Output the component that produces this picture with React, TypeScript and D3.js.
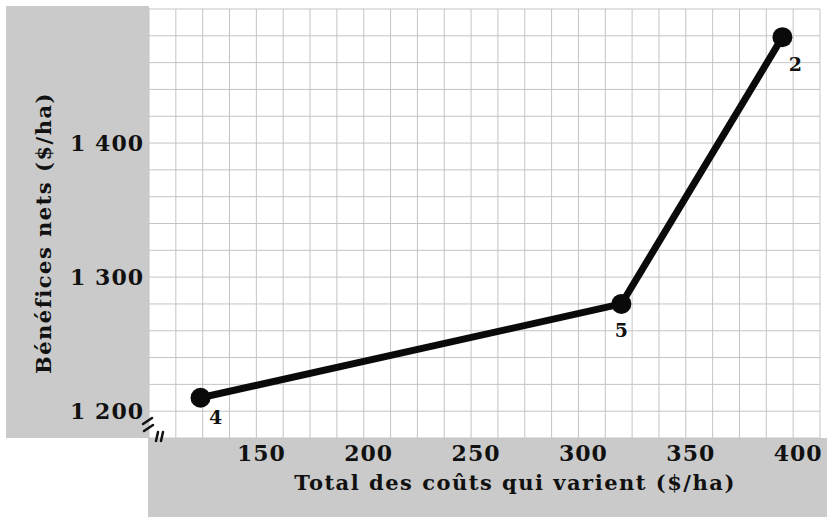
import React from "react";
import * as d3 from "d3";

// treatments on the net benefit curve
const treatments = ["4", "5", "2"];
const costs = [124, 320, 395];
const benefits = [1210, 1280, 1479];

const xTicks = [150, 200, 250, 300, 350, 400];
const yTicks = [1200, 1300, 1400];

const xTitle = "Total des coûts qui varient ($/ha)";
const yTitle = "Bénéfices nets ($/ha)";

const W = 827;
const H = 520;
const plot = { left: 149, right: 820, top: 9, bottom: 438 };
const font = "'DejaVu Serif', serif";

export default function App() {
  const x = d3.scaleLinear().domain([100, 412.5]).range([plot.left, plot.right]);
  const y = d3.scaleLinear().domain([1180, 1500]).range([plot.bottom, plot.top]);

  const points = treatments.map((t, i) => ({ t, c: costs[i], b: benefits[i] }));
  const line = d3
    .line<{ c: number; b: number }>()
    .x((d) => x(d.c))
    .y((d) => y(d.b));

  const xGrid = d3.range(100, 412.5 + 0.01, 12.5);
  const yGrid = d3.range(1180, 1500 + 0.01, 20);

  // label offsets per treatment (label sits below-right of its dot)
  const labelDx = [15, 0, 13];
  const labelDy = [26, 33, 34];

  return (
    <svg width={W} height={H} style={{ display: "block", position: "absolute", left: 0, top: 0 }}>
      <rect x={0} y={0} width={W} height={H} fill="#fff" />
      {/* shaded axis panels */}
      <rect x={6} y={6} width={plot.left - 6} height={plot.bottom - 6} fill="#cacaca" />
      <rect x={plot.left - 1} y={plot.bottom} width={W - plot.left + 1} height={79} fill="#cacaca" />

      {/* grid */}
      <g stroke="#c4c4c4" strokeWidth={1}>
        {xGrid.map((v) => (
          <line key={"gx" + v} x1={x(v)} x2={x(v)} y1={plot.top} y2={plot.bottom} />
        ))}
        {yGrid.map((v) => (
          <line key={"gy" + v} x1={plot.left} x2={plot.right} y1={y(v)} y2={y(v)} />
        ))}
      </g>

      {/* y tick labels */}
      <g fontFamily={font} fontWeight="bold" fontSize={22} letterSpacing={1} fill="#111" textAnchor="end">
        {yTicks.map((v) => (
          <text key={"yt" + v} x={plot.left - 5} y={y(v) + 8}>
            {d3.format(",")(v).replace(",", " ")}
          </text>
        ))}
      </g>

      {/* x tick labels */}
      <g fontFamily={font} fontWeight="bold" fontSize={22} letterSpacing={1} fill="#111" textAnchor="middle">
        {xTicks.map((v) => (
          <text key={"xt" + v} x={x(v) + 5} y={461}>
            {v}
          </text>
        ))}
      </g>

      {/* axis titles */}
      <text
        x={515}
        y={490}
        textAnchor="middle"
        fontFamily={font}
        fontWeight="bold"
        fontSize={21}
        letterSpacing={1.5}
        fill="#111"
      >
        {xTitle}
      </text>
      <text
        transform={`translate(51,${233}) rotate(-90)`}
        textAnchor="middle"
        fontFamily={font}
        fontWeight="bold"
        fontSize={21}
        letterSpacing={1.5}
        fill="#111"
      >
        {yTitle}
      </text>

      {/* axis break marks */}
      <g stroke="#111" strokeWidth={2.5} strokeLinecap="round">
        <line x1={143} y1={424} x2={152} y2={418} />
        <line x1={144} y1={431} x2={153} y2={425} />
        <line x1={156} y1={441} x2={158} y2={432} />
        <line x1={161} y1={441} x2={163} y2={432} />
      </g>

      {/* net benefit curve */}
      <path d={line(points) ?? ""} fill="none" stroke="#0a0a0a" strokeWidth={7} strokeLinejoin="round" />
      {points.map((p, i) => (
        <g key={p.t}>
          <circle cx={x(p.c)} cy={y(p.b)} r={10} fill="#0a0a0a" />
          <text
            x={x(p.c) + labelDx[i]}
            y={y(p.b) + labelDy[i]}
            textAnchor="middle"
            fontFamily={font}
            fontWeight="bold"
            fontSize={19}
            fill="#111"
          >
            {p.t}
          </text>
        </g>
      ))}
    </svg>
  );
}
